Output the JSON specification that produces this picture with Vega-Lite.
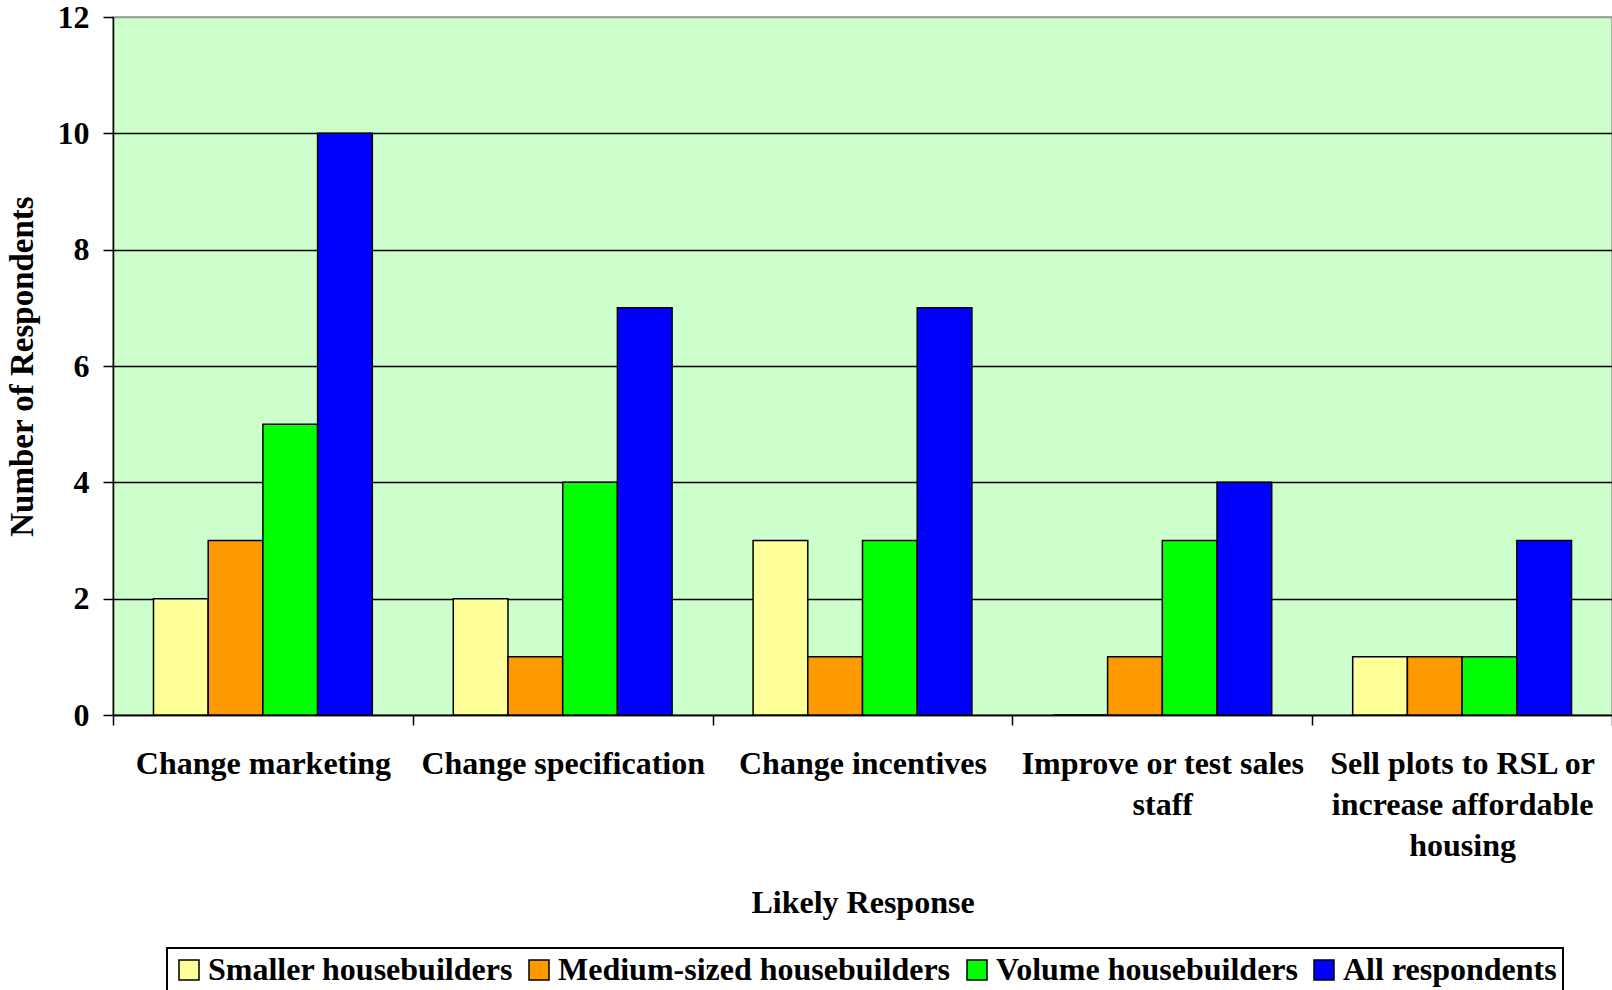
{
  "$schema": "https://vega.github.io/schema/vega-lite/v6.json",
  "width": 1499,
  "height": 698,
  "autosize": {"type": "none"},
  "padding": {"left": 113, "top": 17, "right": 0, "bottom": 275},
  "background": "white",
  "config": {
    "font": "Liberation Serif",
    "view": {"fill": "#CCFFCC", "stroke": "#999999", "strokeWidth": 1.5},
    "axis": {"labelFont": "Liberation Serif", "titleFont": "Liberation Serif", "labelFontWeight": "bold", "titleFontWeight": "bold", "labelColor": "black", "titleColor": "black", "labelFontSize": 32, "titleFontSize": 32, "domainColor": "black", "tickColor": "black", "domainWidth": 1.5, "tickWidth": 1.5},
    "legend": {"labelFont": "Liberation Serif", "labelFontWeight": "bold", "labelFontSize": 32, "labelColor": "black", "strokeColor": "black", "strokeWidth": 2}
  },
  "data": {
    "values": [
      {"response": "Change marketing", "group": "Smaller housebuilders", "count": 2},
      {"response": "Change marketing", "group": "Medium-sized housebuilders", "count": 3},
      {"response": "Change marketing", "group": "Volume housebuilders", "count": 5},
      {"response": "Change marketing", "group": "All respondents", "count": 10},
      {"response": "Change specification", "group": "Smaller housebuilders", "count": 2},
      {"response": "Change specification", "group": "Medium-sized housebuilders", "count": 1},
      {"response": "Change specification", "group": "Volume housebuilders", "count": 4},
      {"response": "Change specification", "group": "All respondents", "count": 7},
      {"response": "Change incentives", "group": "Smaller housebuilders", "count": 3},
      {"response": "Change incentives", "group": "Medium-sized housebuilders", "count": 1},
      {"response": "Change incentives", "group": "Volume housebuilders", "count": 3},
      {"response": "Change incentives", "group": "All respondents", "count": 7},
      {"response": "Improve or test sales staff", "group": "Smaller housebuilders", "count": 0},
      {"response": "Improve or test sales staff", "group": "Medium-sized housebuilders", "count": 1},
      {"response": "Improve or test sales staff", "group": "Volume housebuilders", "count": 3},
      {"response": "Improve or test sales staff", "group": "All respondents", "count": 4},
      {"response": "Sell plots to RSL or increase affordable housing", "group": "Smaller housebuilders", "count": 1},
      {"response": "Sell plots to RSL or increase affordable housing", "group": "Medium-sized housebuilders", "count": 1},
      {"response": "Sell plots to RSL or increase affordable housing", "group": "Volume housebuilders", "count": 1},
      {"response": "Sell plots to RSL or increase affordable housing", "group": "All respondents", "count": 3}
    ]
  },
  "mark": {"type": "bar", "stroke": "black", "strokeWidth": 1.5},
  "encoding": {
    "x": {
      "field": "response", "type": "nominal", "sort": null,
      "scale": {"paddingInner": 0, "paddingOuter": 0},
      "axis": {
        "title": "Likely Response",
        "labelAngle": 0,
        "labelLimit": 400,
        "labelOverlap": false,
        "labelLineHeight": 41,
        "labelPadding": 23,
        "tickBand": "extent",
        "tickSize": 10,
        "titlePadding": 26,
        "labelExpr": "datum.value == 'Improve or test sales staff' ? ['Improve or test sales', 'staff'] : datum.value == 'Sell plots to RSL or increase affordable housing' ? ['Sell plots to RSL or', 'increase affordable', 'housing'] : datum.label"
      }
    },
    "xOffset": {
      "field": "group", "type": "nominal",
      "sort": ["Smaller housebuilders", "Medium-sized housebuilders", "Volume housebuilders", "All respondents"],
      "scale": {"paddingInner": 0, "paddingOuter": 0.74}
    },
    "y": {
      "field": "count", "type": "quantitative",
      "scale": {"domain": [0, 12], "nice": false},
      "axis": {
        "title": "Number of Respondents",
        "titleFontSize": 33,
        "values": [0, 2, 4, 6, 8, 10, 12],
        "grid": true,
        "gridColor": {"condition": {"test": "datum.value == 12", "value": "#999999"}, "value": "black"},
        "gridWidth": 1.5,
        "tickSize": 10, "labelPadding": 14, "titlePadding": 18
      }
    },
    "fill": {
      "field": "group", "type": "nominal",
      "sort": ["Smaller housebuilders", "Medium-sized housebuilders", "Volume housebuilders", "All respondents"],
      "scale": {
        "domain": ["Smaller housebuilders", "Medium-sized housebuilders", "Volume housebuilders", "All respondents"],
        "range": ["#FFFF99", "#FF9900", "#00FF00", "#0000FF"]
      },
      "legend": {
        "title": null,
        "orient": "none",
        "legendX": 54,
        "legendY": 931,
        "direction": "horizontal",
        "columns": 4,
        "symbolType": "square",
        "symbolSize": 400,
        "symbolStrokeColor": "black",
        "symbolStrokeWidth": 1.5,
        "labelOffset": 3,
        "columnPadding": 10,
        "padding": 6,
        "labelLimit": 500
      }
    }
  }
}
